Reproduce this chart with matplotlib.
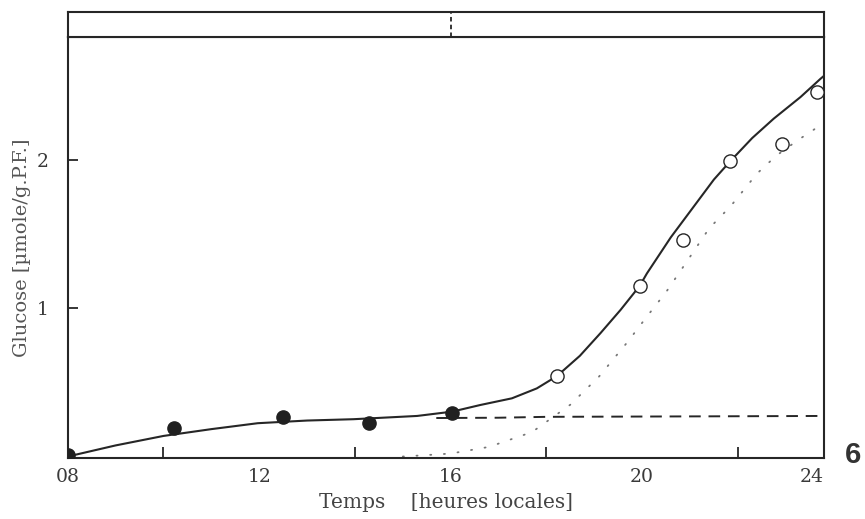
import matplotlib
matplotlib.use("Agg")
import matplotlib.pyplot as plt

# ---- data ----
filled_x = [8.01, 10.23, 12.49, 14.30, 16.03]
filled_y = [0.011, 0.195, 0.269, 0.225, 0.292]

open_x = [18.22, 19.95, 20.86, 21.84, 22.92, 23.66]
open_y = [0.543, 1.152, 1.465, 1.993, 2.107, 2.461]

solid_x = [8.0, 9.0, 10.0, 11.0, 11.97, 13.0, 13.97, 15.30, 16.03, 16.62, 17.28,
           17.8, 18.22, 18.7, 19.13, 19.55, 19.95, 20.10, 20.6, 21.23, 21.5, 21.84,
           22.3, 22.75, 23.31, 23.73, 23.8]
solid_y = [0.0, 0.075, 0.139, 0.185, 0.225, 0.243, 0.252, 0.274, 0.303, 0.348, 0.393,
           0.46, 0.543, 0.68, 0.833, 0.99, 1.152, 1.236, 1.48, 1.753, 1.87, 1.993,
           2.15, 2.281, 2.427, 2.551, 2.57]

dashed_x = [15.7, 17.0, 18.0, 20.0, 22.0, 23.8]
dashed_y = [0.260, 0.262, 0.268, 0.270, 0.272, 0.274]

dotted_x = [15.0, 16.0, 16.8, 17.7, 18.5, 19.1, 19.7, 20.1, 20.5, 20.9, 21.4,
            21.85, 22.4, 22.8, 23.25, 23.65]
dotted_y = [0.0, 0.02, 0.065, 0.165, 0.35, 0.54, 0.775, 0.945, 1.11, 1.30, 1.54,
            1.69, 1.91, 2.03, 2.135, 2.22]

x_minor_ticks = [10, 12, 14, 16, 18, 20, 22]
x_label_pos = [8, 12, 16, 20, 23.8]
x_label_txt = ["08", "12", "16", "20", "24"]
y_ticks = [1, 2]
y_tick_txt = ["1", "2"]
dark_start = 16

ink = "#262626"
txt = "#3a3a3a"

fig = plt.figure(figsize=(8.65, 5.19), dpi=100)
ax = fig.add_axes([0.0783, 0.1175, 0.8743, 0.8106])
band = fig.add_axes([0.0783, 0.9281, 0.8743, 0.0482], sharex=ax)

# curves
ax.plot(solid_x, solid_y, color=ink, lw=1.5, solid_capstyle="round",
        solid_joinstyle="round", zorder=3)
ax.plot(dashed_x, dashed_y, color=ink, lw=1.4, dashes=(6.0, 4.0), zorder=2)
ax.plot(dotted_x, dotted_y, color="#777777", lw=1.3, linestyle=(0, (0.6, 7.0)),
        dash_capstyle="round", zorder=2)

# points
ax.plot(filled_x, filled_y, "o", ms=9.5, color="#202020", mec="#202020", zorder=5)
ax.plot(open_x, open_y, "o", ms=9.5, mfc="white", mec=ink, mew=1.0, zorder=5)

ax.set_xlim(8, 23.8)
ax.set_ylim(-0.01, 2.83)

for s in ax.spines.values():
    s.set_linewidth(1.5)
    s.set_color(ink)

ax.set_xticks(x_label_pos)
ax.set_xticklabels(x_label_txt, family="DejaVu Serif", fontsize=13.5, color=txt)
ax.set_xticks(x_minor_ticks, minor=True)
ax.tick_params(axis="x", which="major", length=0, pad=7)
ax.tick_params(axis="x", which="minor", direction="in", length=8, width=1.3, color=ink)
ax.get_xticklabels()[-1].set_horizontalalignment("right")

ax.set_yticks(y_ticks)
ax.set_yticklabels(y_tick_txt, family="DejaVu Serif", fontsize=13.5, color=txt)
ax.tick_params(axis="y", direction="in", length=7, width=1.3, color=ink, pad=14)

ax.set_ylabel("Glucose [\u00b5mole/g.P.F.]", family="DejaVu Serif", fontsize=14,
              color="#555555", labelpad=4)
ax.set_xlabel("Temps    [heures locales]", family="DejaVu Serif", fontsize=14.5,
              color="#444444", labelpad=5)

# top light/dark band
band.set_ylim(0, 1)
band.set_yticks([])
band.tick_params(axis="x", which="both", length=0, labelbottom=False)
for s in band.spines.values():
    s.set_linewidth(1.5)
    s.set_color(ink)
band.axvline(dark_start, color=ink, lw=1.3, dashes=(2.5, 1.8))

fig.text(0.977, 0.108, "6", family="Liberation Sans", fontsize=21, fontweight="bold",
         color="#333333", ha="left", va="baseline")

fig.savefig("out.png", dpi=100)
